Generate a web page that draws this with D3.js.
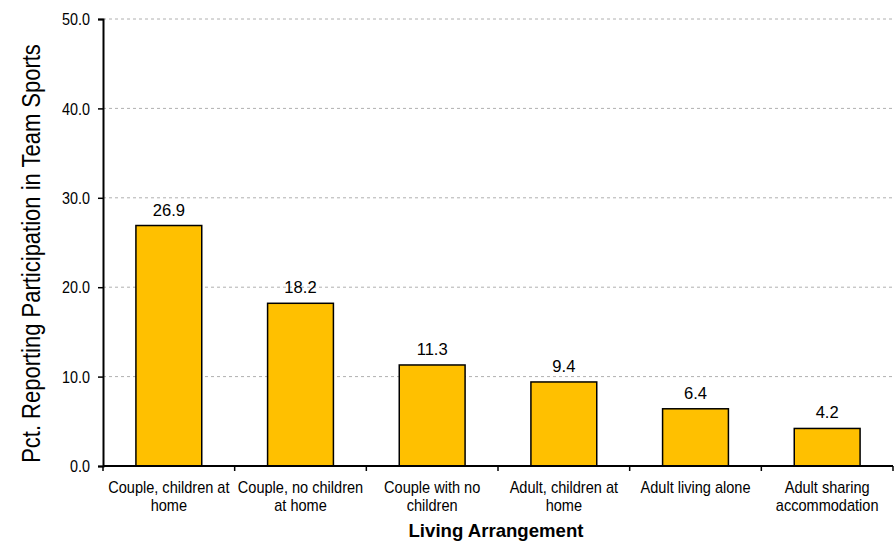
<!DOCTYPE html>
<html><head><meta charset="utf-8">
<script src="https://cdn.jsdelivr.net/npm/d3@7"></script>
<style>body{margin:0;background:#fff}svg{display:block}text{font-family:"Liberation Sans",Arial,sans-serif}</style>
</head><body>
<svg id="c" width="894" height="543"></svg>
<script>
const categories = [["Couple, children at","home"],["Couple, no children","at home"],["Couple with no","children"],["Adult, children at","home"],["Adult living alone"],["Adult sharing","accommodation"]];
const values = [26.9, 18.2, 11.3, 9.4, 6.4, 4.2];
const yTicks = [0, 10, 20, 30, 40, 50];

const svg = d3.select("#c");
const m = {l:103, r:893, t:19, b:466};
const x = d3.scaleBand().domain(d3.range(values.length)).range([m.l, m.r]).paddingInner(0.5).paddingOuter(0.25);
const y = d3.scaleLinear().domain([0,50]).range([m.b, m.t]);

// gridlines
svg.append("g").selectAll("line").data(yTicks.filter(d=>d>0)).join("line")
  .attr("x1", m.l).attr("x2", m.r).attr("y1", d=>y(d)).attr("y2", d=>y(d))
  .attr("stroke","#b0b0b0").attr("stroke-width",1).attr("stroke-dasharray","3,3");

// bars
svg.append("g").selectAll("rect").data(values).join("rect")
  .attr("x",(d,i)=>x(i)).attr("width",x.bandwidth())
  .attr("y",d=>y(d)).attr("height",d=>y(0)-y(d))
  .attr("fill","#FFC000").attr("stroke","#000").attr("stroke-width",1.5);

// value labels
svg.append("g").selectAll("text").data(values).join("text")
  .attr("transform",(d,i)=>`translate(${x(i)+x.bandwidth()/2},${y(d)-10}) scale(0.96,1)`)
  .attr("text-anchor","middle").attr("font-size",17.3).attr("fill","#000")
  .text(d=>d.toFixed(1));

// y axis
const yAxis = d3.axisLeft(y).tickValues(yTicks).tickFormat(d3.format(".1f")).tickSize(5);
const gy = svg.append("g").attr("transform",`translate(${m.l},0)`).call(yAxis);
gy.select(".domain").attr("stroke","#000").attr("stroke-width",2);
gy.selectAll(".tick line").attr("stroke","#000").attr("stroke-width",1.5);
const sxT = 0.87;
gy.selectAll(".tick text").attr("font-size",16.5).attr("fill","#000")
  .attr("font-family","Liberation Sans, Arial, sans-serif")
  .attr("transform",`scale(${sxT},1)`).attr("x",-13/sxT).attr("dy","0.34em");

// x axis baseline with boundary ticks
const boundaries = d3.range(values.length+1).map(i=>m.l + i*(m.r-m.l)/values.length);
svg.append("line").attr("x1",m.l).attr("x2",m.r).attr("y1",y(0)).attr("y2",y(0)).attr("stroke","#000").attr("stroke-width",2);
svg.append("g").selectAll("line").data(boundaries).join("line")
  .attr("x1",d=>d).attr("x2",d=>d).attr("y1",y(0)).attr("y2",y(0)+5)
  .attr("stroke","#000").attr("stroke-width",1.5);

// category labels
const cl = svg.append("g").selectAll("text").data(categories).join("text")
  .attr("transform",(d,i)=>`translate(${x(i)+x.bandwidth()/2},493) scale(0.91,1)`)
  .attr("text-anchor","middle").attr("font-size",16).attr("fill","#000");
cl.each(function(d){
  const t = d3.select(this);
  d.forEach((line,j)=>t.append("tspan").attr("x",0).attr("dy", j===0?0:18.4).text(line));
});

// axis titles
svg.append("text").attr("x",496).attr("y",536.5).attr("text-anchor","middle")
  .attr("font-size",18.6).attr("font-weight","bold").text("Living Arrangement");
svg.append("text").attr("transform",`translate(40,253.5) rotate(-90) scale(0.88,1)`).attr("text-anchor","middle")
  .attr("font-size",25).text("Pct. Reporting Participation in Team Sports");
</script>
</body></html>
